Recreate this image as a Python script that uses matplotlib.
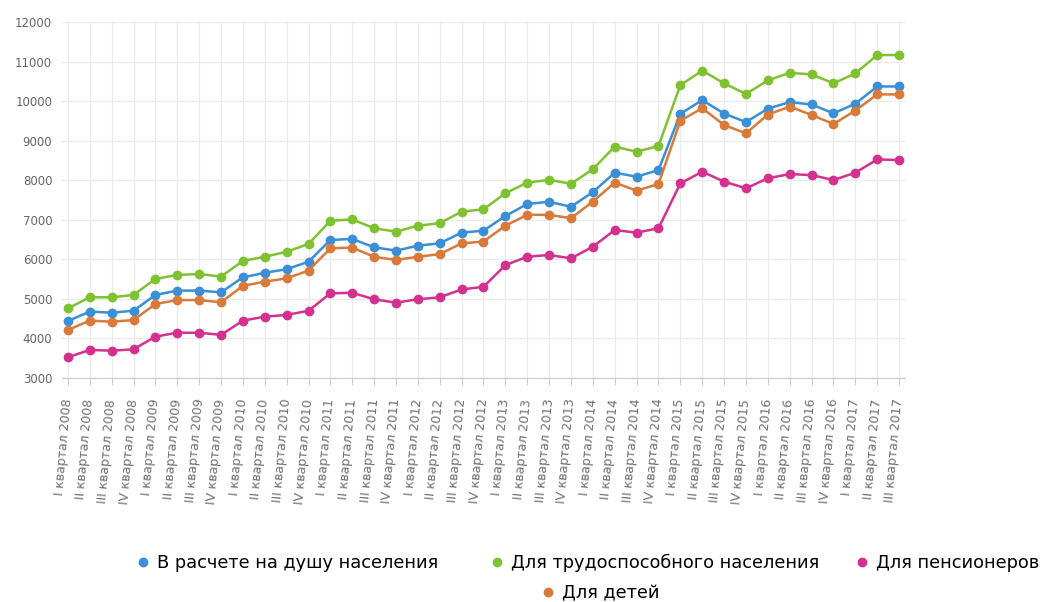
import numpy as np
import matplotlib.pyplot as plt
from matplotlib.lines import Line2D

# квартальные данные, I кв. 2008 - III кв. 2017
years = list(range(2008, 2018))
quarters = ['I', 'II', 'III', 'IV']
labels = [q + ' квартал ' + str(y) for y in years for q in quarters][:39]

per_capita = [4440, 4680, 4650, 4700, 5100, 5210, 5210, 5165, 5545,
              5660, 5750, 5940, 6490, 6515, 6305, 6220, 6345, 6405,
              6675, 6725, 7095, 7400, 7455, 7330, 7700, 8190,
              8090, 8255, 9680, 10025, 9685, 9470, 9810,
              9975, 9915, 9690, 9935, 10370, 10370]
working = [4760, 5040, 5040, 5100, 5505, 5605, 5630, 5565, 5960,
           6065, 6190, 6390, 6975, 7010, 6785, 6700, 6850, 6915,
           7205, 7265, 7670, 7940, 8010, 7910, 8280, 8850,
           8720, 8865, 10405, 10770, 10450, 10180, 10525,
           10715, 10675, 10450, 10700, 11165, 11165]
pensioners = [3525, 3710, 3690, 3725, 4045, 4145, 4145, 4090, 4450,
              4550, 4595, 4700, 5140, 5155, 4990, 4905, 4990, 5040,
              5240, 5305, 5855, 6065, 6110, 6025, 6320, 6740,
              6675, 6785, 7920, 8215, 7965, 7795, 8050,
              8155, 8130, 8005, 8190, 8525, 8510]
children = [4215, 4450, 4425, 4465, 4870, 4970, 4970, 4915, 5330,
            5435, 5520, 5715, 6280, 6295, 6065, 5985, 6065, 6130,
            6405, 6450, 6850, 7125, 7125, 7040, 7460, 7940,
            7735, 7905, 9505, 9820, 9395, 9185, 9660,
            9860, 9650, 9420, 9760, 10170, 10170]

series = [
    ('В расчете на душу населения', per_capita, '#3a8fd6'),
    ('Для трудоспособного населения', working, '#7fc231'),
    ('Для пенсионеров', pensioners, '#d3308f'),
    ('Для детей', children, '#d9793a'),
]

fig = plt.figure(figsize=(10.63, 6.02), dpi=100)
ax = fig.add_axes([62 / 1063, 1 - 378 / 602, 843 / 1063, 356 / 602])

x = np.arange(len(labels))
for name, vals, col in series:
    ax.plot(x, vals, color=col, lw=1.8, marker='o', ms=6, label=name)

ax.set_xlim(-0.27, len(labels) - 1 + 0.27)
ax.set_ylim(3000, 12000)
ax.set_yticks(range(3000, 12001, 1000))
ax.set_xticks(x)
ax.set_xticklabels(labels, rotation=85, ha='right', va='center',
                   rotation_mode='anchor', fontsize=9, color='#707070')
ax.tick_params(axis='x', length=5, color='#cccccc', pad=10)
ax.tick_params(axis='y', length=0, labelsize=8.5, labelcolor='#666666', pad=7)
ax.grid(True, color='#ebebeb', lw=0.9)
ax.set_axisbelow(True)
for s in ['top', 'right', 'left']:
    ax.spines[s].set_visible(False)
ax.spines['bottom'].set_color('#cccccc')

# легенда внизу: три элемента в первой строке и один по центру во второй
leg_pos = [(138, 563), (492, 563), (857, 563), (543, 593)]
for (name, vals, col), (lx, ly) in zip(series, leg_pos):
    h = Line2D([], [], color=col, marker='o', ls='none', ms=6)
    fig.legend([h], [name], loc='center left',
               bbox_to_anchor=(lx / 1063, 1 - ly / 602), frameon=False,
               borderpad=0, borderaxespad=0, handlelength=0.6,
               handletextpad=0.45, fontsize=12.8)

fig.savefig('out.png', dpi=100)
